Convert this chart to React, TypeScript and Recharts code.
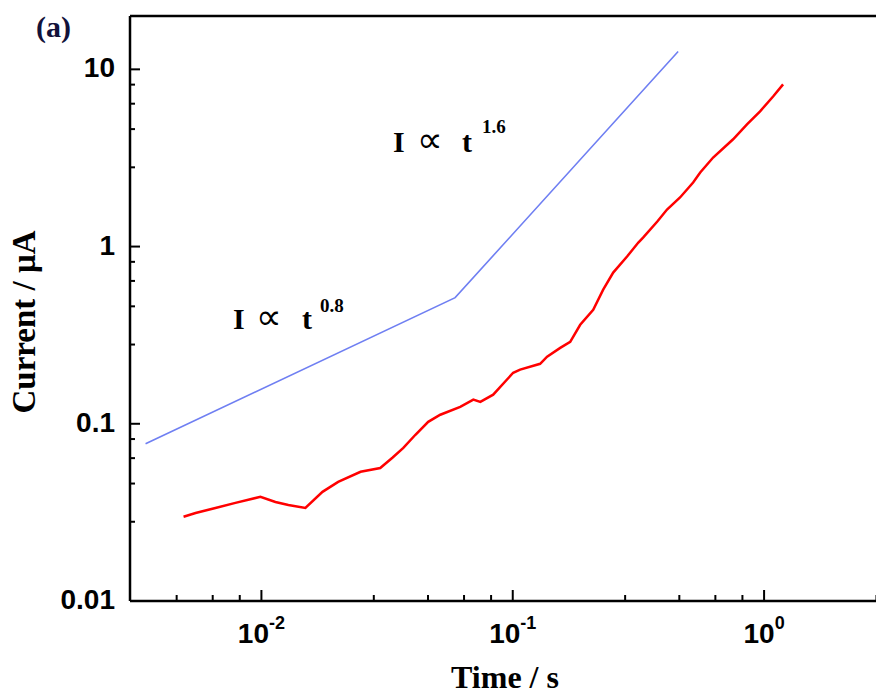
import React from "react";
import { LineChart, Line, XAxis, YAxis, ReferenceLine } from "recharts";

// Measured transient current (red)
const redTime = [
  0.0049, 0.00547, 0.00656, 0.00788, 0.00991, 0.01137, 0.0128, 0.01496, 0.0175,
  0.0202, 0.0248, 0.0297, 0.0332, 0.0367, 0.041, 0.0461, 0.0515, 0.0618, 0.0697,
  0.0743, 0.0836, 0.1004, 0.107, 0.1285, 0.137, 0.1545, 0.1693, 0.1855, 0.209,
  0.229, 0.251, 0.285, 0.316, 0.33, 0.376, 0.411, 0.463, 0.522, 0.557, 0.627,
  0.753, 0.855, 0.964, 1.086, 1.19,
];
const redCurrent = [
  0.0299, 0.0314, 0.0335, 0.0358, 0.0387, 0.0362, 0.0348, 0.0335, 0.0413,
  0.047, 0.0536, 0.0563, 0.0643, 0.0731, 0.0867, 0.1026, 0.1125, 0.1247, 0.1368,
  0.133, 0.146, 0.194, 0.202, 0.218, 0.239, 0.268, 0.29, 0.362, 0.44,
  0.571, 0.713, 0.879, 1.054, 1.124, 1.384, 1.618, 1.892, 2.3, 2.62, 3.18,
  4.03, 4.89, 5.79, 7.03, 8.23,
];

// Power-law guide (blue)
const blueTime = [0.00346, 0.059, 0.455];
const blueCurrent = [0.0771, 0.515, 12.6];

// Axes
const xDomain = [0.003, 3];
const yDomain = [0.01, 20];
const xMajorTicks = [0.01, 0.1, 1];
const xMajorExponents = ["-2", "-1", "0"];
const xMinorTicks = [0.0046, 0.0064, 0.0082, 0.028, 0.046, 0.064, 0.082, 0.28, 0.46, 0.64, 0.82, 2.8];
const yMajorTicks = [0.01, 0.1, 1, 10];
const yMajorLabels = ["0.01", "0.1", "1", "10"];
const yMinorTicks = [0.028, 0.046, 0.064, 0.082, 0.28, 0.46, 0.64, 0.82, 2.8, 4.6, 6.4, 8.2];

const redData = redTime.map((t, i) => ({ time: t, current: redCurrent[i] }));
const blueData = blueTime.map((t, i) => ({ time: t, current: blueCurrent[i] }));

const SANS = "'Liberation Sans', Arial, sans-serif";
const SERIF = "'Liberation Serif', 'Times New Roman', serif";

const YTick = (props: any) => {
  const { x, y, payload } = props;
  const i = yMajorTicks.indexOf(payload.value);
  const major = i >= 0;
  return (
    <g>
      <line x1={x} x2={x + (major ? 10 : 5)} y1={y} y2={y} stroke="#000" strokeWidth={2} />
      {major && (
        <text x={x - 15} y={y + 8} textAnchor="end" fontFamily={SANS} fontWeight="bold" fontSize={28} fill="#000">
          {yMajorLabels[i]}
        </text>
      )}
    </g>
  );
};

const XTick = (props: any) => {
  const { x, y, payload } = props;
  const i = xMajorTicks.indexOf(payload.value);
  const major = i >= 0;
  return (
    <g>
      <line x1={x} x2={x} y1={y} y2={y - (major ? 11 : 6)} stroke="#000" strokeWidth={2} />
      {major && (
        <text x={x} y={y + 42} textAnchor="middle" fontFamily={SANS} fontWeight="bold" fill="#000">
          <tspan fontSize={28}>10</tspan>
          <tspan fontSize={18} dy={-14}>{xMajorExponents[i]}</tspan>
        </text>
      )}
    </g>
  );
};

export default function App() {
  return (
    <div style={{ position: "absolute", left: 0, top: 0, width: 876, height: 696, overflow: "hidden", background: "#fff" }}>
      <LineChart width={900} height={696} margin={{ top: 16, right: 16, bottom: 0, left: 0 }}>
        <XAxis
          dataKey="time"
          type="number"
          scale="log"
          domain={xDomain}
          allowDataOverflow
          ticks={[...xMajorTicks, ...xMinorTicks]}
          interval={0}
          tick={<XTick />}
          tickLine={false}
          tickSize={0}
          tickMargin={0}
          height={95}
          axisLine={{ stroke: "#000", strokeWidth: 2.5 }}
        />
        <YAxis
          dataKey="current"
          type="number"
          scale="log"
          domain={yDomain}
          allowDataOverflow
          ticks={[...yMajorTicks, ...yMinorTicks]}
          interval={0}
          tick={<YTick />}
          tickLine={false}
          tickSize={0}
          tickMargin={0}
          width={130}
          axisLine={{ stroke: "#000", strokeWidth: 2.5 }}
        />
        <ReferenceLine y={yDomain[1]} stroke="#000" strokeWidth={2.5} />
        <ReferenceLine x={xDomain[1]} stroke="#000" strokeWidth={2.5} />
        <Line
          data={blueData}
          dataKey="current"
          type="linear"
          stroke="#6f7ff2"
          strokeWidth={1.6}
          dot={false}
          isAnimationActive={false}
        />
        <Line
          data={redData}
          dataKey="current"
          type="linear"
          stroke="#ff0000"
          strokeWidth={2.5}
          dot={false}
          isAnimationActive={false}
        />
      </LineChart>
      <svg width={876} height={696} style={{ position: "absolute", left: 0, top: 0, pointerEvents: "none" }}>
        <text x={36} y={37} fontFamily={SERIF} fontWeight="bold" fontSize={30} fill="#12123a">(a)</text>
        <text
          x={35}
          y={322}
          transform="rotate(-90, 35, 322)"
          textAnchor="middle"
          fontFamily={SERIF}
          fontWeight="bold"
          fontSize={33}
          fill="#000"
        >
          Current / μA
        </text>
        <text x={505} y={688} textAnchor="middle" fontFamily={SERIF} fontWeight="bold" fontSize={32} fill="#000">
          Time / s
        </text>
        <g fill="#000">
          <text x={233} y={329} fontFamily={SERIF} fontWeight="bold" fontSize={30}>I</text>
          <text x={256} y={329} fontFamily="'DejaVu Sans', sans-serif" fontSize={36}>∝</text>
          <text x={302} y={329} fontFamily={SERIF} fontWeight="bold" fontSize={30}>t</text>
          <text x={320} y={312} fontFamily={SERIF} fontWeight="bold" fontSize={19}>0.8</text>
          <text x={393} y={152} fontFamily={SERIF} fontWeight="bold" fontSize={30}>I</text>
          <text x={417} y={152} fontFamily="'DejaVu Sans', sans-serif" fontSize={36}>∝</text>
          <text x={462} y={152} fontFamily={SERIF} fontWeight="bold" fontSize={30}>t</text>
          <text x={482} y={133} fontFamily={SERIF} fontWeight="bold" fontSize={19}>1.6</text>
        </g>
      </svg>
    </div>
  );
}
